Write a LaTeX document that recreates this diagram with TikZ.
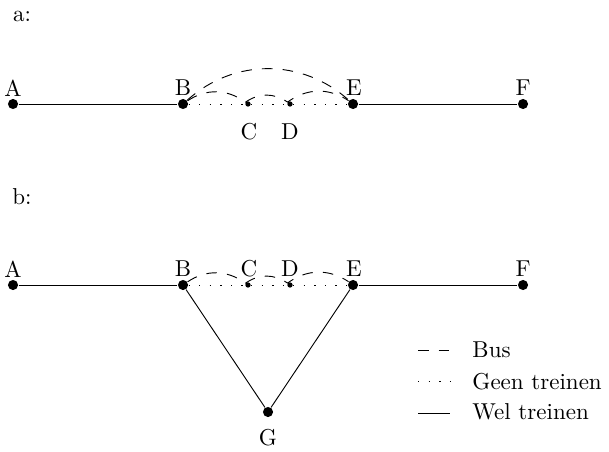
\documentclass[tikz,border=0pt]{standalone}
\begin{document}
\begin{tikzpicture}[x=0.4348pt,y=-0.4348pt,
  bigdot/.style={circle,fill,inner sep=0pt,minimum size=4.4pt},
  smalldot/.style={circle,fill,inner sep=0pt,minimum size=2.3pt},
  lbl/.style={inner sep=0pt},
  bus/.style={dash pattern=on 4.6pt off 4.4pt},
  geen/.style={dash pattern=on 0.6pt off 4pt},
  wel/.style={}]
\useasboundingbox (0,0) rectangle (609,451);
% panel a
\node[lbl] (la) at (22,16) {a:};
\node[bigdot] (A1) at (13,104) {};
\node[bigdot] (B1) at (183,104) {};
\node[smalldot] (C1) at (248,104) {};
\node[smalldot] (D1) at (290,104) {};
\node[bigdot] (E1) at (353,104) {};
\node[bigdot] (F1) at (523,104) {};
\node[lbl] (tA1) at (13,88) {A};
\node[lbl] (tB1) at (183,88) {B};
\node[lbl] (tE1) at (354,88) {E};
\node[lbl] (tF1) at (523,88) {F};
\node[lbl] (tC1) at (249,132) {C};
\node[lbl] (tD1) at (290,132) {D};
\draw[wel] (A1) -- (B1);
\draw[wel] (E1) -- (F1);
\draw[geen] (B1) -- (C1) -- (D1) -- (E1);
\draw[bus] (B1) to[bend left=42] (E1);
\draw[bus] (B1) to[bend left=35] (C1) to[bend left=35] (D1) to[bend left=35] (E1);
% panel b
\node[lbl] (lb) at (22,197) {b:};
\node[bigdot] (A2) at (13,285) {};
\node[bigdot] (B2) at (183,285) {};
\node[smalldot] (C2) at (248,285) {};
\node[smalldot] (D2) at (290,285) {};
\node[bigdot] (E2) at (353,285) {};
\node[bigdot] (F2) at (523,285) {};
\node[bigdot] (G2) at (268,412) {};
\node[lbl] (tA2) at (13,269) {A};
\node[lbl] (tB2) at (183,269) {B};
\node[lbl] (tC2) at (249,269) {C};
\node[lbl] (tD2) at (290,269) {D};
\node[lbl] (tE2) at (354,269) {E};
\node[lbl] (tF2) at (523,269) {F};
\node[lbl] (tG2) at (268,438) {G};
\draw[wel] (A2) -- (B2);
\draw[wel] (E2) -- (F2);
\draw[wel] (B2) -- (G2) -- (E2);
\draw[geen] (B2) -- (C2) -- (D2) -- (E2);
\draw[bus] (B2) to[bend left=35] (C2) to[bend left=35] (D2) to[bend left=35] (E2);
% legend
\coordinate (l1a) at (418,350); \coordinate (l1b) at (450,350);
\coordinate (l2a) at (418,381); \coordinate (l2b) at (450,381);
\coordinate (l3a) at (418,413); \coordinate (l3b) at (450,413);
\draw[bus] (l1a) -- (l1b);
\draw[geen] (l2a) -- (l2b);
\draw[wel] (l3a) -- (l3b);
\node[lbl,anchor=base west] (t1) at (472,357) {Bus};
\node[lbl,anchor=base west] (t2) at (472,389) {Geen treinen};
\node[lbl,anchor=base west] (t3) at (472,419) {Wel treinen};
\end{tikzpicture}
\end{document}
